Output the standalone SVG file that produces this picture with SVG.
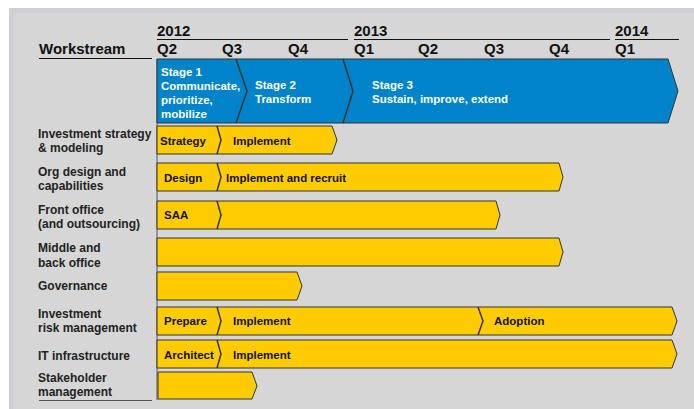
<svg xmlns="http://www.w3.org/2000/svg" width="694" height="409" viewBox="0 0 694 409">
<style>
text{font-family:"Liberation Sans",Arial,sans-serif;font-weight:bold}
.hdr{font-size:15px;fill:#111}
.lbl{font-size:12px;fill:#222}
.stg{font-size:11.5px;fill:#fff}
.bt{font-size:11.5px;fill:#111}
.bar{fill:#ffcc00;stroke:#333;stroke-width:1}
.blue{fill:#0084c9;stroke:#333;stroke-width:1}
.div{fill:none;stroke:#333;stroke-width:1.5}
.rule{stroke:#111;stroke-width:1.2}
</style>
<rect x="0" y="0" width="694" height="409" fill="#ffffff"/>
<rect x="9" y="8" width="685" height="401" fill="#d0d0d2"/>
<rect x="14" y="13" width="680" height="396" fill="#d6d6d6"/>

<g id="header">
<text class="hdr" x="157" y="36">2012</text>
<text class="hdr" x="354" y="36">2013</text>
<text class="hdr" x="615" y="36">2014</text>
<line class="rule" x1="157" y1="39.5" x2="348" y2="39.5"/>
<line class="rule" x1="354" y1="39.5" x2="610" y2="39.5"/>
<line class="rule" x1="615" y1="39.5" x2="679" y2="39.5"/>
<text class="hdr" x="39" y="54">Workstream</text>
<line class="rule" x1="39" y1="58.5" x2="152" y2="58.5"/>
<text class="hdr" x="157" y="54">Q2</text>
<text class="hdr" x="222" y="54">Q3</text>
<text class="hdr" x="288" y="54">Q4</text>
<text class="hdr" x="354" y="54">Q1</text>
<text class="hdr" x="418" y="54">Q2</text>
<text class="hdr" x="484" y="54">Q3</text>
<text class="hdr" x="549" y="54">Q4</text>
<text class="hdr" x="615" y="54">Q1</text>
<line x1="157" y1="59" x2="157" y2="400" stroke="#555" stroke-width="1"/>
<line x1="39" y1="400.5" x2="152" y2="400.5" stroke="#555" stroke-width="1"/>
</g>

<g id="stages">
<polygon class="blue" points="157,59 668,59 678,91 668,123 157,123"/>
<polyline class="div" points="236,59 247,91 236,123"/>
<polyline class="div" points="343,59 353,91 343,123"/>
<text class="stg" x="161" y="76">Stage 1</text>
<text class="stg" x="161" y="90">Communicate,</text>
<text class="stg" x="161" y="104">prioritize,</text>
<text class="stg" x="161" y="118">mobilize</text>
<text class="stg" x="255" y="89">Stage 2</text>
<text class="stg" x="255" y="103">Transform</text>
<text class="stg" x="372" y="89">Stage 3</text>
<text class="stg" x="372" y="103">Sustain, improve, extend</text>
</g>

<g id="row-investment-strategy">
<text class="lbl" x="38" y="138">Investment strategy</text>
<text class="lbl" x="38" y="152">&amp; modeling</text>
<polygon class="bar" points="157,126 332,126 337,140 332,154 157,154"/>
<polyline class="div" points="217,126 221,140 217,154"/>
<text class="bt" x="160" y="145">Strategy</text>
<text class="bt" x="233" y="145">Implement</text>
</g>

<g id="row-org-design">
<text class="lbl" x="38" y="176">Org design and</text>
<text class="lbl" x="38" y="190">capabilities</text>
<polygon class="bar" points="157,163 559,163 563,177 559,191 157,191"/>
<polyline class="div" points="217,163 221,177 217,191"/>
<text class="bt" x="164" y="182">Design</text>
<text class="bt" x="226" y="182">Implement and recruit</text>
</g>

<g id="row-front-office">
<text class="lbl" x="38" y="214">Front office</text>
<text class="lbl" x="38" y="228">(and outsourcing)</text>
<polygon class="bar" points="157,201 496,201 500,215 496,229 157,229"/>
<polyline class="div" points="217,201 221,215 217,229"/>
<text class="bt" x="164" y="219">SAA</text>
</g>

<g id="row-middle-back-office">
<text class="lbl" x="38" y="252">Middle and</text>
<text class="lbl" x="38" y="267">back office</text>
<polygon class="bar" points="157,238 559,238 563,252 559,266 157,266"/>
</g>

<g id="row-governance">
<text class="lbl" x="38" y="290">Governance</text>
<polygon class="bar" points="157,272 297,272 302,286 297,300 157,300"/>
</g>

<g id="row-investment-risk">
<text class="lbl" x="38" y="318">Investment</text>
<text class="lbl" x="38" y="332">risk management</text>
<polygon class="bar" points="157,307 672,307 677,321 672,335 157,335"/>
<polyline class="div" points="217,307 221,321 217,335"/>
<polyline class="div" points="478,307 483,321 478,335"/>
<text class="bt" x="164" y="325">Prepare</text>
<text class="bt" x="233" y="325">Implement</text>
<text class="bt" x="494" y="325">Adoption</text>
</g>

<g id="row-it-infrastructure">
<text class="lbl" x="38" y="360">IT infrastructure</text>
<polygon class="bar" points="157,340 672,340 677,354 672,368 157,368"/>
<polyline class="div" points="217,340 221,354 217,368"/>
<text class="bt" x="164" y="359">Architect</text>
<text class="bt" x="233" y="359">Implement</text>
</g>

<g id="row-stakeholder">
<text class="lbl" x="38" y="382">Stakeholder</text>
<text class="lbl" x="38" y="396">management</text>
<polygon class="bar" points="158,372 252,372 257,386 252,399 158,399"/>
</g>
</svg>
